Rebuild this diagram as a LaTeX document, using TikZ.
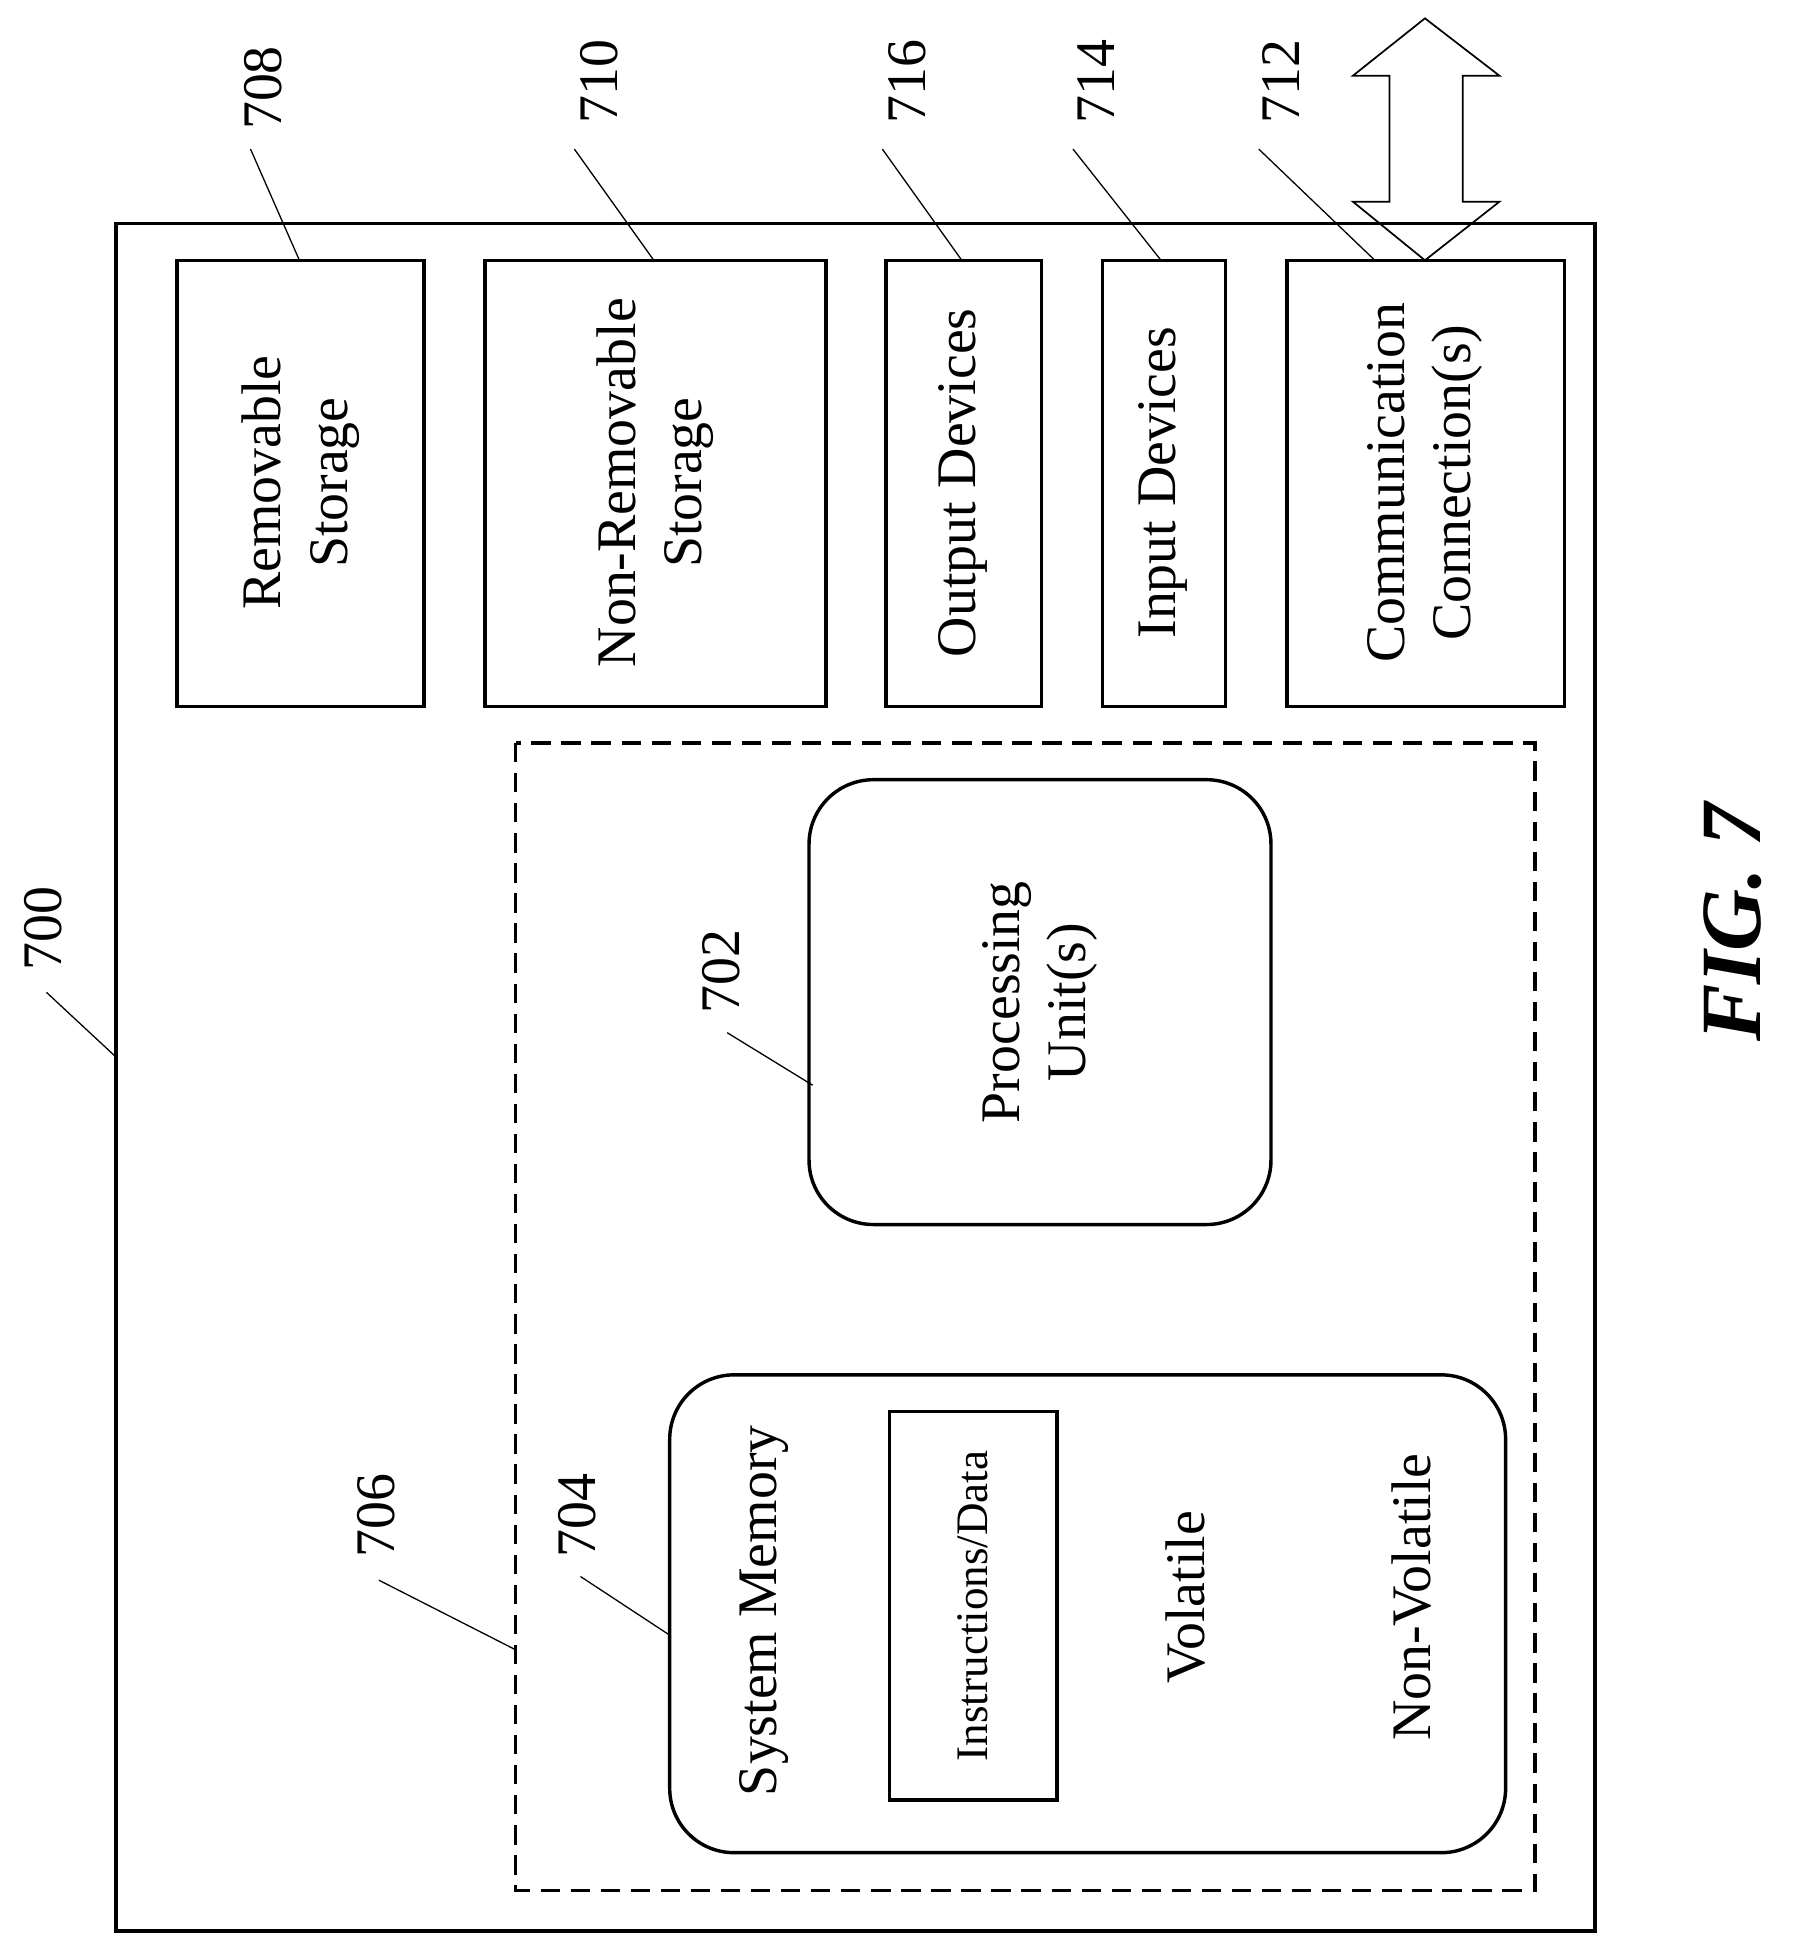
\documentclass[tikz,border=0pt]{standalone}
\usepackage{fontspec}
\setmainfont{Liberation Serif}
\begin{document}
\begin{tikzpicture}[x=0.02cm,y=-0.02cm,line width=1.6pt,
    txt/.style={rotate=90,font=\fontsize{26}{31}\selectfont,align=center},
    num/.style={rotate=90,font=\fontsize{26}{31}\selectfont},
    lead/.style={line width=0.6pt}]
  \useasboundingbox (0,0) rectangle (1468,1585);
  % outer device and boxes
  \draw (95,183) rectangle (1305,1580);
  \draw (145,213) rectangle (347,578);
  \draw (397,213) rectangle (676,578);
  \draw (725,213) rectangle (852,578);
  \draw (902,213) rectangle (1003,578);
  \draw (1053,213) rectangle (1280,578);
  \draw[dashed,dash pattern=on 9pt off 5pt] (422,608) rectangle (1256,1547);
  \draw[rounded corners=30] (662,638) rectangle (1040,1002);
  \draw[rounded corners=30] (548,1125) rectangle (1232,1516);
  \draw (728,1155) rectangle (865,1473);
  % texts
  \node[txt] (rem) at (246,395) {Removable\\Storage};
  \node[txt] (nonrem) at (536,395) {Non-Removable\\Storage};
  \node[txt] (out) at (788,395) {Output Devices};
  \node[txt] (in) at (952,395) {Input Devices};
  \node[txt] (comm) at (1166,395) {Communication\\Connection(s)};
  \node[txt] (proc) at (851,820) {Processing\\Unit(s)};
  \node[txt] (sysmem) at (625,1318) {System Memory};
  \node[txt,font=\fontsize{21}{25}\selectfont] (instr) at (796,1314) {Instructions/Data};
  \node[txt] (vol) at (970,1307) {Volatile};
  \node[txt] (nonvol) at (1155,1307) {Non-Volatile};
  % reference numerals
  \node[num] (n708) at (215,72) {708};
  \node[num] (n710) at (490,67) {710};
  \node[num] (n716) at (742,67) {716};
  \node[num] (n714) at (897,67) {714};
  \node[num] (n712) at (1048,67) {712};
  \node[num] (n700) at (35,760) {700};
  \node[num] (n702) at (590,795) {702};
  \node[num] (n706) at (308,1240) {706};
  \node[num] (n704) at (472,1240) {704};
  \coordinate (c708) at (245,213);
  \coordinate (c710) at (535,213);
  \coordinate (c716) at (787,213);
  \coordinate (c714) at (950,213);
  \coordinate (c712) at (1125,213);
  \coordinate (c700) at (95,865);
  \coordinate (c702) at (665,888);
  \coordinate (c706) at (422,1350);
  \coordinate (c704) at (548,1338);
  \draw[lead] (205,122) -- (c708);
  \draw[lead] (470,122) -- (c710);
  \draw[lead] (722,122) -- (c716);
  \draw[lead] (878,122) -- (c714);
  \draw[lead] (1030,122) -- (c712);
  \draw[lead] (38,812) -- (c700);
  \draw[lead] (595,845) -- (c702);
  \draw[lead] (310,1293) -- (c706);
  \draw[lead] (475,1290) -- (c704);
  % double arrow
  \draw[line width=0.8pt] (1166,15) -- (1227,62) -- (1197,62) -- (1197,165) -- (1227,165)
    -- (1166,213) -- (1107,165) -- (1137,165) -- (1137,62) -- (1107,62) -- cycle;
  \node[rotate=90,font=\fontsize{40}{48}\selectfont\bfseries\itshape] (fig) at (1418,755) {FIG. 7};
\end{tikzpicture}
\end{document}
